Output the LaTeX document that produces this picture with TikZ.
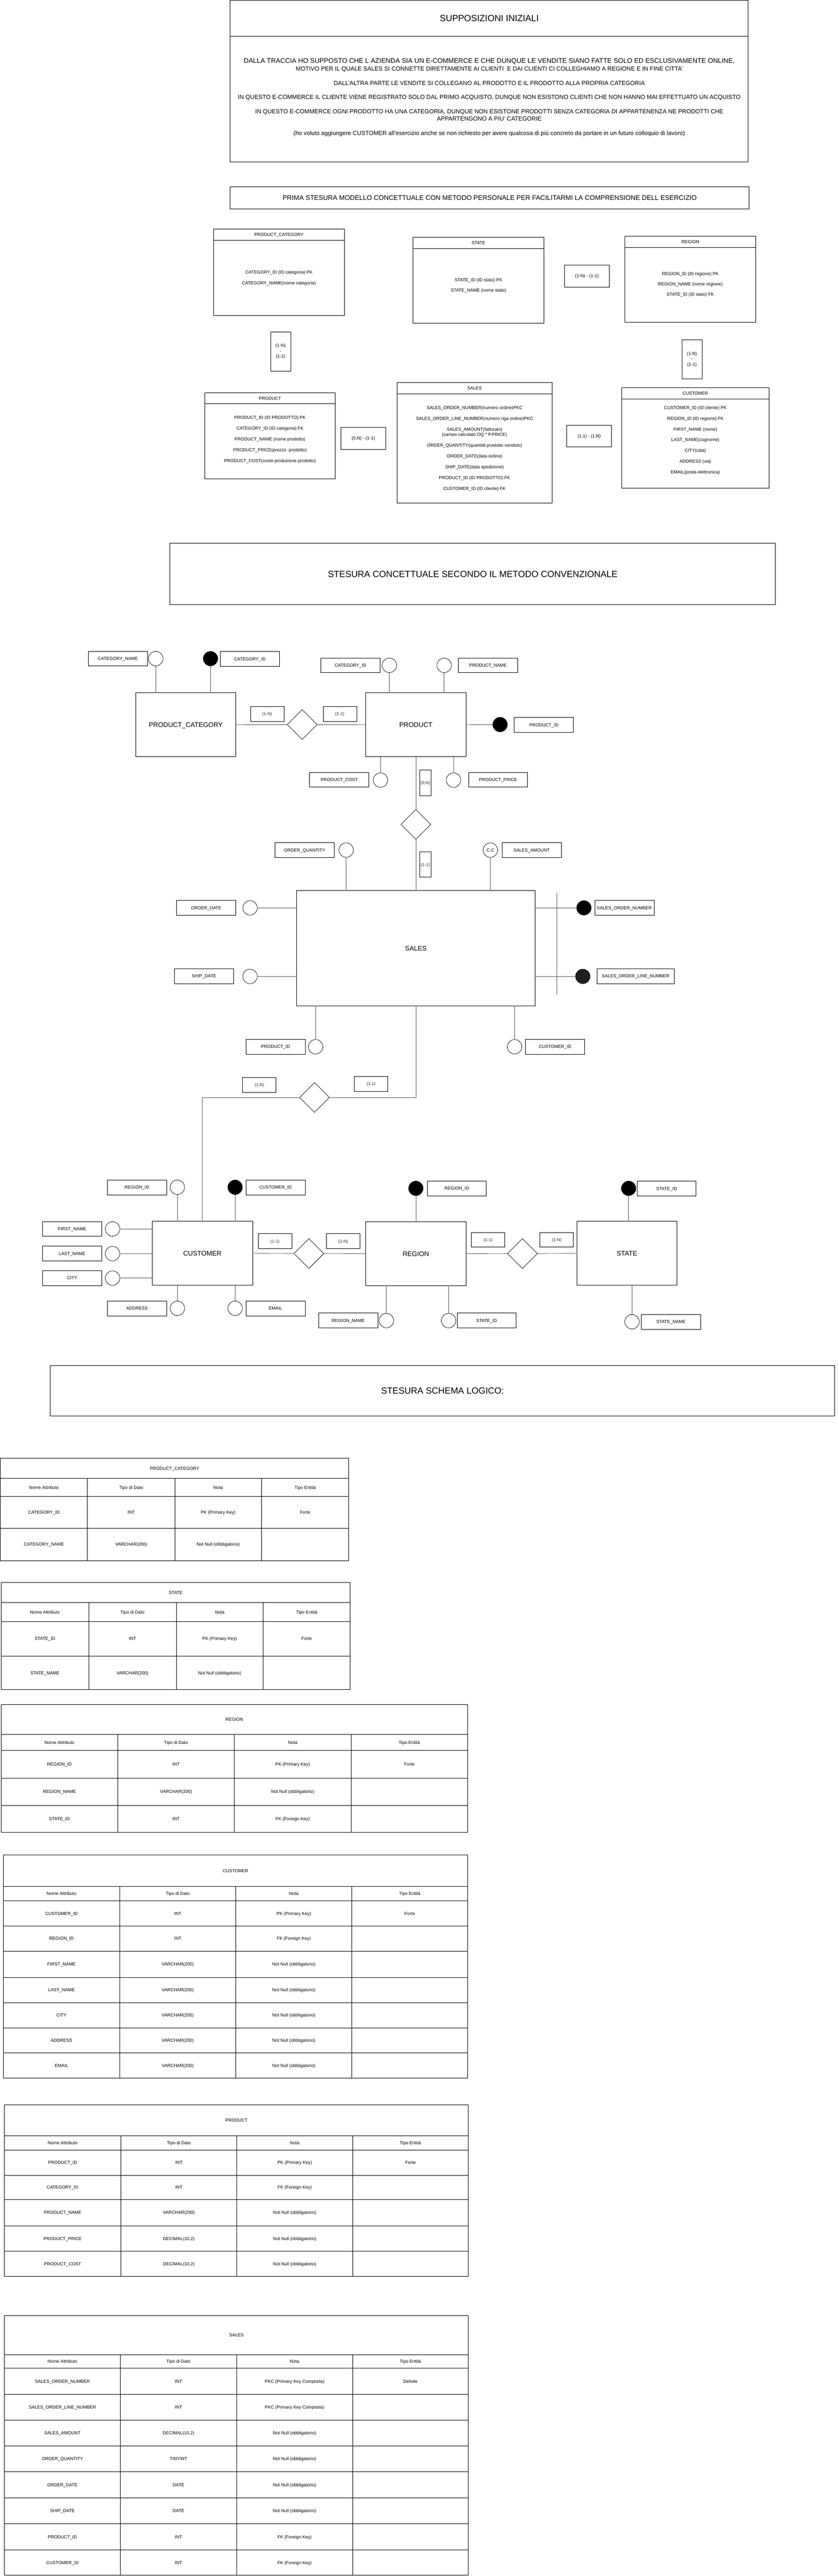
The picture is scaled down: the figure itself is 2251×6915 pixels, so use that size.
\documentclass[tikz,border=0pt]{standalone}
\usepackage{fontspec}
\setmainfont{Liberation Sans}
\usetikzlibrary{shapes.geometric}
\newcommand{\mkbox}[8][]{\node[#2,#1,minimum width=#6pt-#4pt,minimum height=#7pt-#5pt] (#3) at ({(#4+#6)/2},{(#5+#7)/2}) {#8};}
\newcommand{\trow}[7]{%
 \mkbox{cell}{#1a}{\xa}{#2}{\xb}{#3}{#4}%
 \mkbox{cell}{#1b}{\xb}{#2}{\xc}{#3}{#5}%
 \mkbox{cell}{#1c}{\xc}{#2}{\xd}{#3}{#6}%
 \mkbox{cell}{#1d}{\xd}{#2}{\xe}{#3}{#7}}
\newcommand{\fs}[2]{\fontsize{#1}{#2}\selectfont}
\tikzset{
 base/.style={inner sep=0pt,outer sep=0pt},
 frame/.style={base,draw,line width=1.3pt,align=center},
 big/.style={font=\fs{24}{28},text height=17.2pt,text depth=0pt},
 hdr/.style={base,draw,line width=1.2pt,font=\fs{12}{14},align=center},
 hdrone/.style={hdr,text height=8.6pt,text depth=0pt},
 ent/.style={base,draw,line width=1.3pt,font=\fs{18}{22},text height=12.9pt,text depth=0pt},
 lbl/.style={base,draw,line width=1.1pt,font=\fs{12}{14},text height=8.6pt,text depth=0pt},
 card/.style={base,draw,line width=1pt,font=\fs{11.5}{14.5},text=black!85,text height=8.2pt,text depth=0pt},
 attr/.style={base,circle,draw,line width=1pt,minimum size=39pt,font=\fs{12}{14},text height=8.6pt,text depth=0pt},
 keyattr/.style={attr,fill=black},
 rel/.style={base,diamond,aspect=1,draw,line width=1pt,minimum width=80pt,minimum height=80pt},
 conn/.style={line width=1.2pt,draw=black!65},
 cell/.style={base,draw,line width=1.2pt,font=\fs{12}{14},text height=8.6pt,text depth=0pt},
 txt/.style={base,align=center},
 line16/.style={base,font=\fs{16}{20},text height=11.5pt,text depth=0pt},
}
\begin{document}
\begin{tikzpicture}[x=1pt,y=-1pt]
\fill[white] (0,0) rectangle (2251,6915);
\useasboundingbox (0,0) rectangle (2251,6915);
% ---------------- SUPPOSIZIONI INIZIALI
\mkbox[big]{frame}{suppH}{618}{1}{2008}{97}{SUPPOSIZIONI INIZIALI}
\mkbox{frame}{suppB}{618}{97}{2008}{435}{}
\node[base,font=\fs{18}{22},text height=12.9pt,text depth=0pt] (s1) at (1313,163) {DALLA TRACCIA HO SUPPOSTO CHE L AZIENDA SIA UN E-COMMERCE E CHE DUNQUE LE VENDITE SIANO FATTE SOLO ED ESCLUSIVAMENTE ONLINE,};
\node[line16] (s2) at (1313,185) {MOTIVO PER IL QUALE SALES SI CONNETTE DIRETTAMENTE AI CLIENTI \ E DAI CLIENTI CI COLLEGHIAMO A REGIONE E IN FINE CITTA'};
\node[line16] (s3) at (1313,223) {DALL'ALTRA PARTE LE VENDITE SI COLLEGANO AL PRODOTTO E IL PRODOTTO ALLA PROPRIA CATEGORIA};
\node[line16] (s4) at (1313,260) {IN QUESTO E-COMMERCE IL CLIENTE VIENE REGISTRATO SOLO DAL PRIMO ACQUISTO, DUNQUE NON ESISTONO CLIENTI CHE NON HANNO MAI EFFETTUATO UN ACQUISTO};
\node[txt,font=\fs{16}{20}] (s5) at (1313,309) {IN QUESTO E-COMMERCE OGNI PRODOTTO HA UNA CATEGORIA, DUNQUE NON ESISTONE PRODOTTI SENZA CATEGORIA DI APPARTENENZA NE PRODOTTI CHE\\APPARTENGONO A PIU' CATEGORIE};
\node[line16] (s6) at (1313,357) {(ho voluto aggiungere CUSTOMER all'esercizio anche se non richiesto per avere qualcosa di più concreto da portare in un futuro colloquio di lavoro)};
% ---------------- PRIMA STESURA
\mkbox[font=\fs{18}{22},text height=12.9pt,text depth=0pt]{frame}{prima}{618}{501}{2010}{561}{PRIMA STESURA MODELLO CONCETTUALE CON METODO PERSONALE PER FACILITARMI LA COMPRENSIONE DELL ESERCIZIO}
\mkbox{hdrone}{pcH}{573}{615}{924}{645}{PRODUCT\_CATEGORY}
\mkbox{hdr}{pcB}{573}{645}{924}{847}{}
\node[txt,font=\fs{12}{29}] (pcT) at (748.5,746) {CATEGORY\_ID (ID categoria) PK\\CATEGORY\_NAME(nome categoria)};
\mkbox{hdrone}{stH}{1109}{637}{1459}{667}{STATE}
\mkbox{hdr}{stB}{1109}{667}{1459}{868}{}
\node[txt,font=\fs{12}{28}] (stT) at (1284,767) {STATE\_ID (ID stato) PK\\STATE\_NAME (nome stato)};
\mkbox{hdrone}{c1}{1515}{711}{1635}{771}{(1-N) - (1-1)}
\mkbox{hdrone}{rgH}{1677}{634}{2028}{664}{REGION}
\mkbox{hdr}{rgB}{1677}{664}{2028}{865}{}
\node[txt,font=\fs{12}{28}] (rgT) at (1852.5,764) {REGION\_ID (ID regione) PK\\REGION\_NAME (nome regione)\\STATE\_ID (ID stato) FK};
\mkbox[font=\fs{12}{14.5}]{hdr}{c2}{726}{891}{780}{996}{(1-N)\\-\\(1-1)}
\mkbox[font=\fs{12}{14.5}]{hdr}{c3}{1830}{912}{1884}{1017}{(1-N)\\-\\(1-1)}
\mkbox{hdrone}{prH}{549}{1055}{900}{1084}{PRODUCT}
\mkbox{hdr}{prB}{549}{1084}{900}{1286}{}
\node[txt,font=\fs{12}{28.75}] (prT) at (724.5,1180) {PRODUCT\_ID (ID PRODOTTO) PK\\CATEGORY\_ID (ID categoria) FK\\PRODUCT\_NAME (nome prodotto)\\PRODUCT\_PRICE(prezzo \ prodotto)\\PRODUCT\_COST(costo produzione prodotto)};
\mkbox{hdrone}{c4}{915}{1147}{1035}{1206}{(0,N) - (1-1)}
\mkbox{hdrone}{saH}{1065}{1027}{1482}{1057}{SALES}
\mkbox{hdr}{saB}{1065}{1057}{1482}{1351}{}
\node[txt,font=\fs{12}{29}] (saT) at (1273.5,1204) {SALES\_ORDER\_NUMBER(numero ordine)PKC\\SALES\_ORDER\_LINE\_NUMBER(numero riga ordine)PKC\\SALES\_AMOUNT(fatturato)\\[-15pt](campo calcolato OQ * P.PRICE)\\ORDER\_QUANTITY(quantità prodotto venduto)\\ORDER\_DATE(data ordine)\\SHIP\_DATE(data spedizione)\\PRODUCT\_ID (ID PRODOTTO) FK\\CUSTOMER\_ID (ID cliente) FK};
\mkbox{hdrone}{c5}{1521}{1141}{1641}{1200}{(1,1) - (1,N)}
\mkbox{hdrone}{cuH}{1668}{1041}{2064}{1071}{CUSTOMER}
\mkbox{hdr}{cuB}{1668}{1071}{2064}{1310}{}
\node[txt,font=\fs{12}{28.9}] (cuT) at (1866,1182) {CUSTOMER\_ID (ID cliente) PK\\REGION\_ID (ID regione) FK\\FIRST\_NAME (nome)\\LAST\_NAME(cognome)\\CITY(città)\\ADDRESS (via)\\EMAIL(posta elettronica)};
% ---------------- STESURA CONCETTUALE
\mkbox[big]{frame}{conc}{456}{1458}{2081}{1623}{STESURA CONCETTUALE SECONDO IL METODO CONVENZIONALE}
% entities
\mkbox{ent}{ePC}{364}{1860}{633}{2031}{PRODUCT\_CATEGORY}
\mkbox{ent}{ePR}{981}{1860}{1251}{2031}{PRODUCT}
\mkbox{ent}{eSA}{796}{2391}{1436}{2700}{SALES}
\mkbox{ent}{eCU}{408}{3279}{678}{3450}{CUSTOMER}
\mkbox{ent}{eRE}{981}{3280}{1251}{3451}{REGION}
\mkbox{ent}{eST}{1548}{3279}{1817}{3450}{STATE}
% relationships
\node[rel] (r1) at (811,1945) {};
\node[rel] (r2) at (1116,2213) {};
\node[rel] (r3) at (844,2946) {};
\node[rel] (r4) at (829,3365) {};
\node[rel] (r5) at (1402,3365) {};
\draw[conn] (ePC.east) -- (r1.west);
\draw[conn] (r1.east) -- (ePR.west);
\draw[conn] (r2.north) -- (r2 |- ePR.south);
\draw[conn] (r2.south) -- (r2 |- eSA.north);
\draw[conn] (eSA.south) |- (r3.east);
\draw[conn] (r3.west) -| (eCU.north);
\draw[conn] (eCU.east) -- (r4.west);
\draw[conn] (r4.east) -- (eRE.west);
\draw[conn] (eRE.east) -- (r5.west);
\draw[conn] (r5.east) -- (eST.west);
% cardinalities
\mkbox{card}{k1}{672}{1897}{762}{1936}{(1-N)}
\mkbox{card}{k2}{867}{1897}{957}{1936}{(1-1)}
\mkbox{card}{k3}{1126}{2067}{1157}{2136}{(0,N)}
\mkbox{card}{k4}{1126}{2287}{1157}{2355}{(1-1)}
\mkbox{card}{k5}{651}{2893}{741}{2932}{(1,N)}
\mkbox{card}{k6}{950}{2889}{1041}{2929}{(1,1)}
\mkbox{card}{k7}{693}{3312}{783}{3352}{(1-1)}
\mkbox{card}{k8}{876}{3312}{966}{3352}{(1-N)}
\mkbox{card}{k9}{1265}{3309}{1355}{3348}{(1-1)}
\mkbox{card}{k10}{1449}{3309}{1539}{3348}{(1-N)}
% PRODUCT_CATEGORY attributes
\node[attr] (aPCname) at (418,1768) {};
\mkbox{lbl}{lPCname}{237}{1748}{396}{1788}{CATEGORY\_NAME}
\draw[conn] (aPCname.south) -- (aPCname |- ePC.north);
\node[keyattr] (aPCid) at (565,1768) {};
\mkbox{lbl}{lPCid}{591}{1749}{750}{1789}{CATEGORY\_ID}
\draw[conn] (aPCid.south) -- (aPCid |- ePC.north);
% PRODUCT attributes
\node[attr] (aPRcat) at (1045,1786) {};
\mkbox{lbl}{lPRcat}{861}{1766}{1020}{1806}{CATEGORY\_ID}
\draw[conn] (aPRcat.south) -- (aPRcat |- ePR.north);
\node[attr] (aPRname) at (1192,1786) {};
\mkbox{lbl}{lPRname}{1230}{1766}{1389}{1806}{PRODUCT\_NAME}
\draw[conn] (aPRname.south) -- (aPRname |- ePR.north);
\node[keyattr] (aPRid) at (1342,1945) {};
\mkbox{lbl}{lPRid}{1380}{1926}{1539}{1966}{PRODUCT\_ID}
\draw[conn] (ePR.east) -- (aPRid.west);
\node[attr] (aPRcost) at (1021,2094) {};
\mkbox{lbl}{lPRcost}{831}{2074}{990}{2113}{PRODUCT\_COST}
\draw[conn] (aPRcost.north) -- (aPRcost |- ePR.south);
\node[attr] (aPRprice) at (1217,2094) {};
\mkbox{lbl}{lPRprice}{1257}{2074}{1416}{2113}{PRODUCT\_PRICE}
\draw[conn] (aPRprice.north) -- (aPRprice |- ePR.south);
% SALES attributes
\node[attr] (aSAqty) at (929,2282) {};
\mkbox{lbl}{lSAqty}{738}{2262}{897}{2302}{ORDER\_QUANTITY}
\draw[conn] (aSAqty.south) -- (aSAqty |- eSA.north);
\node[attr] (aSAamt) at (1316,2282) {C.C};
\mkbox{lbl}{lSAamt}{1347}{2262}{1506}{2302}{SALES\_AMOUNT}
\draw[conn] (aSAamt.south) -- (aSAamt |- eSA.north);
\node[attr] (aSAod) at (671,2437) {};
\mkbox{lbl}{lSAod}{474}{2417}{633}{2457}{ORDER\_DATE}
\draw[conn] (aSAod.east) -- (aSAod -| eSA.west);
\node[attr] (aSAsd) at (671,2621) {};
\mkbox{lbl}{lSAsd}{468}{2600}{627}{2640}{SHIP\_DATE}
\draw[conn] (aSAsd.east) -- (aSAsd -| eSA.west);
\node[keyattr] (aSAson) at (1567,2437) {};
\mkbox{lbl}{lSAson}{1596}{2417}{1755}{2457}{SALES\_ORDER\_NUMBER}
\draw[conn] (aSAson -| eSA.east) -- (aSAson.west);
\node[keyattr,fill=black!88] (aSAsoln) at (1564,2621) {};
\mkbox{lbl}{lSAsoln}{1602}{2600}{1809}{2640}{SALES\_ORDER\_LINE\_NUMBER}
\draw[conn] (aSAsoln -| eSA.east) -- (aSAsoln.west);
\coordinate (ckT) at (1494,2397);
\coordinate (ckB) at (1494,2670);
\draw[conn] (ckT) -- (ckB);
\node[attr] (aSApid) at (847,2810) {};
\mkbox{lbl}{lSApid}{660}{2790}{819}{2830}{PRODUCT\_ID}
\draw[conn] (aSApid.north) -- (aSApid |- eSA.south);
\node[attr] (aSAcid) at (1381,2810) {};
\mkbox{lbl}{lSAcid}{1410}{2790}{1569}{2830}{CUSTOMER\_ID}
\draw[conn] (aSAcid.north) -- (aSAcid |- eSA.south);
% CUSTOMER attributes
\node[attr] (aCUreg) at (476,3187) {};
\mkbox{lbl}{lCUreg}{288}{3167}{447}{3208}{REGION\_ID}
\draw[conn] (aCUreg.south) -- (aCUreg |- eCU.north);
\node[keyattr] (aCUid) at (631,3187) {};
\mkbox{lbl}{lCUid}{660}{3167}{819}{3208}{CUSTOMER\_ID}
\draw[conn] (aCUid.south) -- (aCUid |- eCU.north);
\node[attr] (aCUfn) at (302,3299) {};
\mkbox{lbl}{lCUfn}{114}{3279}{273}{3319}{FIRST\_NAME}
\draw[conn] (aCUfn.east) -- (aCUfn -| eCU.west);
\node[attr] (aCUln) at (302,3365) {};
\mkbox{lbl}{lCUln}{114}{3345}{273}{3385}{LAST\_NAME}
\draw[conn] (aCUln.east) -- (aCUln -| eCU.west);
\node[attr] (aCUci) at (302,3431) {};
\mkbox{lbl}{lCUci}{114}{3411}{273}{3451}{CITY}
\draw[conn] (aCUci.east) -- (aCUci -| eCU.west);
\node[attr] (aCUad) at (476,3512) {};
\mkbox{lbl}{lCUad}{288}{3492}{447}{3532}{ADDRESS}
\draw[conn] (aCUad.north) -- (aCUad |- eCU.south);
\node[attr] (aCUem) at (631,3512) {};
\mkbox{lbl}{lCUem}{660}{3492}{819}{3532}{EMAIL}
\draw[conn] (aCUem.north) -- (aCUem |- eCU.south);
% REGION attributes
\node[keyattr] (aREid) at (1116,3190) {};
\mkbox{lbl}{lREid}{1147}{3170}{1305}{3210}{REGION\_ID}
\draw[conn] (aREid.south) -- (aREid |- eRE.north);
\node[attr] (aREname) at (1037,3545) {};
\mkbox{lbl}{lREname}{855}{3525}{1014}{3565}{REGION\_NAME}
\draw[conn] (aREname.north) -- (aREname |- eRE.south);
\node[attr] (aREst) at (1204,3545) {};
\mkbox{lbl}{lREst}{1227}{3525}{1385}{3565}{STATE\_ID}
\draw[conn] (aREst.north) -- (aREst |- eRE.south);
% STATE attributes
\node[keyattr] (aSTid) at (1687,3190) {};
\mkbox{lbl}{lSTid}{1710}{3171}{1868}{3211}{STATE\_ID}
\draw[conn] (aSTid.south) -- (aSTid |- eST.north);
\node[attr] (aSTname) at (1696,3548) {};
\mkbox{lbl}{lSTname}{1721}{3528}{1880}{3568}{STATE\_NAME}
\draw[conn] (aSTname.north) -- (aSTname |- eST.south);
% ---------------- SCHEMA LOGICO
\mkbox[big]{frame}{logico}{135}{3666}{2240}{3801}{STESURA SCHEMA LOGICO:}
% PRODUCT_CATEGORY table
\def\xa{1}\def\xb{235}\def\xc{469}\def\xd{702}\def\xe{936}
\mkbox{cell}{tPC}{\xa}{3915}{\xe}{3969}{PRODUCT\_CATEGORY}
\trow{tPCh}{3969}{4017}{Nome Attributo}{Tipo di Dato}{Nota}{Tipo Entità}
\trow{tPC1}{4017}{4103}{CATEGORY\_ID}{INT}{PK (Primary Key)}{Forte}
\trow{tPC2}{4103}{4189}{CATEGORY\_NAME}{VARCHAR(200)}{Not Null (obbligatorio)}{}
% STATE table
\def\xa{3}\def\xb{238}\def\xc{473}\def\xd{706}\def\xe{940}
\mkbox{cell}{tST}{\xa}{4248}{\xe}{4302}{STATE}
\trow{tSTh}{4302}{4353}{Nome Attributo}{Tipo di Dato}{Nota}{Tipo Entità}
\trow{tST1}{4353}{4445}{STATE\_ID}{INT}{PK (Primary Key)}{Forte}
\trow{tST2}{4445}{4536}{STATE\_NAME}{VARCHAR(200)}{Not Null (obbligatorio)}{}
% REGION table
\def\xa{3}\def\xb{316}\def\xc{629}\def\xd{942}\def\xe{1255}
\mkbox{cell}{tRE}{\xa}{4575}{\xe}{4656}{REGION}
\trow{tREh}{4656}{4699}{Nome Attributo}{Tipo di Dato}{Nota}{Tipo Entità}
\trow{tRE1}{4699}{4773}{REGION\_ID}{INT}{PK (Primary Key)}{Forte}
\trow{tRE2}{4773}{4846}{REGION\_NAME}{VARCHAR(200)}{Not Null (obbligatorio)}{}
\trow{tRE3}{4846}{4918}{STATE\_ID}{INT}{FK (Foreign Key)}{}
% CUSTOMER table
\def\xa{9}\def\xb{321}\def\xc{633}\def\xd{944}\def\xe{1255}
\mkbox{cell}{tCU}{\xa}{4980}{\xe}{5064}{CUSTOMER}
\trow{tCUh}{5064}{5103}{Nome Attributo}{Tipo di Dato}{Nota}{Tipo Entità}
\trow{tCU1}{5103}{5170}{CUSTOMER\_ID}{INT}{PK (Primary Key)}{Forte}
\trow{tCU2}{5170}{5238}{REGION\_ID}{INT}{FK (Foreign Key)}{}
\trow{tCU3}{5238}{5308}{FIRST\_NAME}{VARCHAR(200)}{Not Null (obbligatorio)}{}
\trow{tCU4}{5308}{5376}{LAST\_NAME}{VARCHAR(200)}{Not Null (obbligatorio)}{}
\trow{tCU5}{5376}{5444}{CITY}{VARCHAR(200)}{Not Null (obbligatorio)}{}
\trow{tCU6}{5444}{5511}{ADDRESS}{VARCHAR(200)}{Not Null (obbligatorio)}{}
\trow{tCU7}{5511}{5578}{EMAIL}{VARCHAR(200)}{Not Null (obbligatorio)}{}
% PRODUCT table
\def\xa{12}\def\xb{324}\def\xc{636}\def\xd{946}\def\xe{1257}
\mkbox{cell}{tPR}{\xa}{5650}{\xe}{5733}{PRODUCT}
\trow{tPRh}{5733}{5772}{Nome Attributo}{Tipo di Dato}{Nota}{Tipo Entità}
\trow{tPR1}{5772}{5839}{PRODUCT\_ID}{INT}{PK (Primary Key)}{Forte}
\trow{tPR2}{5839}{5904}{CATEGORY\_ID}{INT}{FK (Foreign Key)}{}
\trow{tPR3}{5904}{5975}{PRODUCT\_NAME}{VARCHAR(200)}{Not Null (obbligatorio)}{}
\trow{tPR4}{5975}{6043}{PRODUCT\_PRICE}{DECIMAL(10,2)}{Not Null (obbligatorio)}{}
\trow{tPR5}{6043}{6111}{PRODUCT\_COST}{DECIMAL(10,2)}{Not Null (obbligatorio)}{}
% SALES table
\def\xa{12}\def\xb{323}\def\xc{635}\def\xd{946}\def\xe{1257}
\mkbox{cell}{tSA}{\xa}{6216}{\xe}{6321}{SALES}
\trow{tSAh}{6321}{6357}{Nome Attributo}{Tipo di Dato}{Nota}{Tipo Entità}
\trow{tSA1}{6357}{6427}{SALES\_ORDER\_NUMBER}{INT}{PKC (Primary Key Composta)}{Debole}
\trow{tSA2}{6427}{6496}{SALES\_ORDER\_LINE\_NUMBER}{INT}{PKC (Primary Key Composta)}{}
\trow{tSA3}{6496}{6566}{SALES\_AMOUNT}{DECIMAL(10,2)}{Not Null (obbligatorio)}{}
\trow{tSA4}{6566}{6635}{ORDER\_QUANTITY}{TINYINT}{Not Null (obbligatorio)}{}
\trow{tSA5}{6635}{6705}{ORDER\_DATE}{DATE}{Not Null (obbligatorio)}{}
\trow{tSA6}{6705}{6775}{SHIP\_DATE}{DATE}{Not Null (obbligatorio)}{}
\trow{tSA7}{6775}{6845}{PRODUCT\_ID}{INT}{FK (Foreign Key)}{}
\trow{tSA8}{6845}{6913}{CUSTOMER\_ID}{INT}{FK (Foreign Key)}{}
\end{tikzpicture}
\end{document}
